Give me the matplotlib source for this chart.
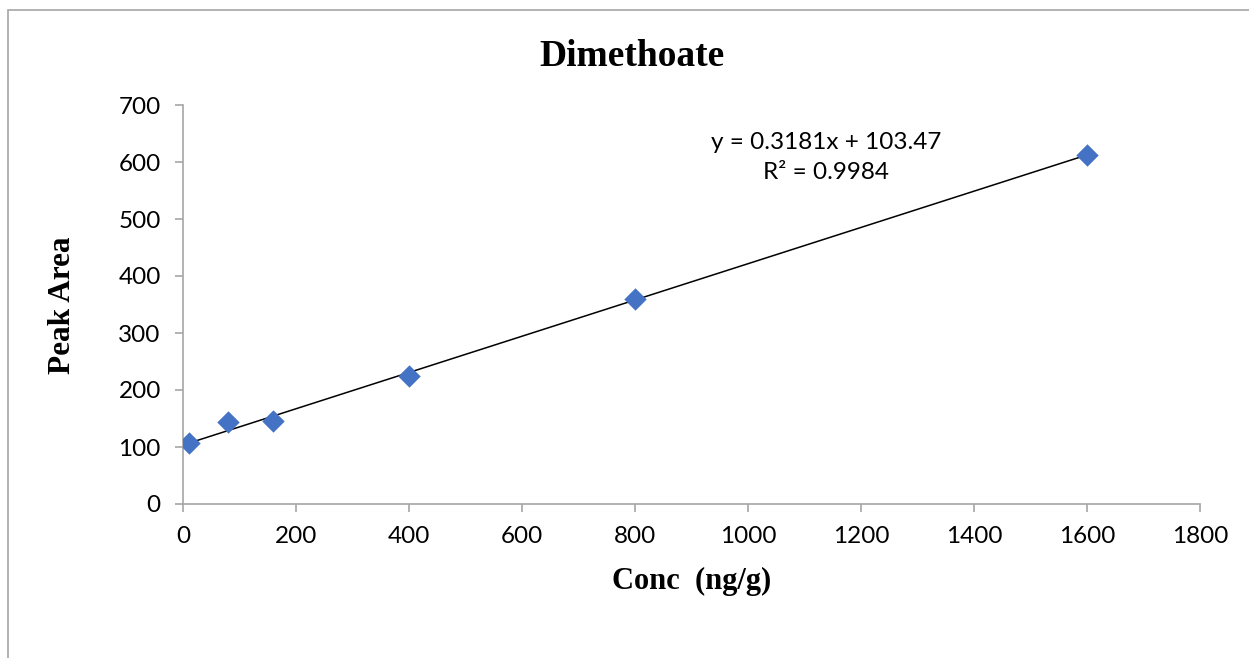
import matplotlib
matplotlib.use("Agg")
import matplotlib.pyplot as plt
from matplotlib.patches import Rectangle
import numpy as np

conc = [10, 80, 160, 400, 800, 1600]
peak_area = [107, 143, 146, 224, 360, 612]
slope = 0.3181
intercept = 103.47
r2 = 0.9984
x_ticks = [0, 200, 400, 600, 800, 1000, 1200, 1400, 1600, 1800]
y_ticks = [0, 100, 200, 300, 400, 500, 600, 700]

W, H = 1249, 658
fig = plt.figure(figsize=(W / 100, H / 100), dpi=100)
fig.patches.append(Rectangle((8 / W, -0.1), 1.2, (H - 10) / H + 0.1,
                             transform=fig.transFigure, fill=False,
                             edgecolor="#a6a6a6", linewidth=1.2))

ax = fig.add_axes([183 / W, 1 - 504 / H, (1200 - 183) / W, (504 - 105) / H])
tick_font = "Lato"

fit_x = np.array([min(conc), max(conc)])
ax.plot(fit_x, slope * fit_x + intercept, color="black", linewidth=1.1, zorder=2)
ax.scatter(conc, peak_area, marker="D", s=130, color="#4472C4", zorder=3,
           linewidths=0)

ax.set_xlim(0, 1800)
ax.set_ylim(0, 700)
ax.set_xticks(x_ticks)
ax.set_yticks(y_ticks)
ax.set_xticklabels([str(t) for t in x_ticks], fontfamily=tick_font, fontsize=17.5)
ax.set_yticklabels([str(t) for t in y_ticks], fontfamily=tick_font, fontsize=17.5)
ax.tick_params(axis="both", direction="out", length=6, width=1.2,
               color="#a6a6a6", pad=10)
for s in ["top", "right"]:
    ax.spines[s].set_visible(False)
for s in ["left", "bottom"]:
    ax.spines[s].set_color("#a6a6a6")
    ax.spines[s].set_linewidth(1.2)

fig.text(632 / W, 1 - 56 / H, "Dimethoate", ha="center", va="center",
         fontfamily="Liberation Serif", fontweight="bold", fontsize=27)
ax.set_xlabel("Conc  (ng/g)", fontfamily="Liberation Serif", fontweight="bold",
              fontsize=22, labelpad=14)
fig.text(62 / W, 1 - 305 / H, "Peak Area", ha="center", va="center",
         rotation=90, fontfamily="Liberation Serif", fontweight="bold",
         fontsize=22.5)

ax.text(1138, 608, f"y = {slope}x + {intercept}\nR² = {r2}",
        ha="center", va="center", fontfamily=tick_font, fontsize=17.5,
        linespacing=1.5)

fig.savefig("out.png", dpi=100)
